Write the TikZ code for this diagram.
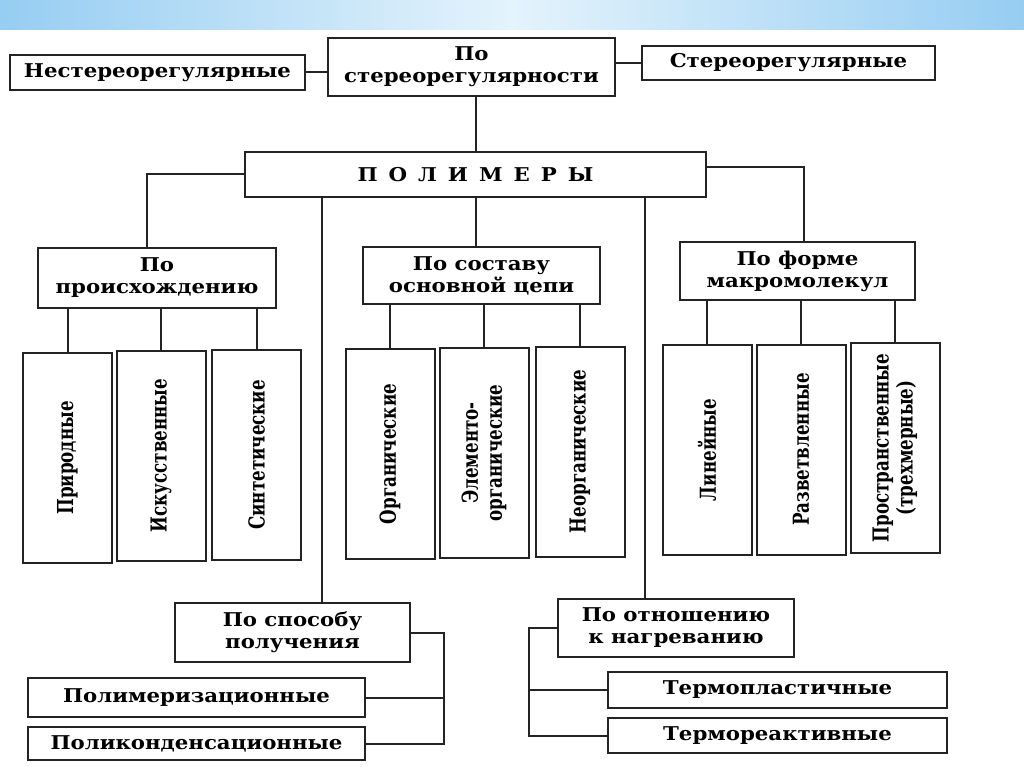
\documentclass[tikz,border=0pt]{standalone}
\usepackage{fontspec}
\setmainfont{DejaVu Serif}
\newfontfamily\wideserif[FakeStretch=1.12]{DejaVu Serif}
\newfontfamily\tallserif[FakeStretch=0.76]{DejaVu Serif}
\usetikzlibrary{positioning}
\definecolor{ink}{RGB}{35,35,35}
\definecolor{bandblue}{RGB}{150,205,242}
\definecolor{bandlight}{RGB}{228,243,252}
\newcommand{\lettergap}{\hspace{11pt}}

\begin{document}
\begin{tikzpicture}[x=1pt, y=-1pt,
    cls/.style={draw=ink, line width=2pt, fill=white, inner sep=2pt, align=center, font=\wideserif\bfseries\fontsize{19}{22}\selectfont},
    vcls/.style={draw=ink, line width=2pt, fill=white, rotate=90, minimum width=210pt, minimum height=89pt, align=center, font=\tallserif\bfseries\fontsize{22}{24}\selectfont},
    link/.style={draw=ink, line width=2pt},
]
    \fill[white] (0,0) rectangle (1024,767);
    \useasboundingbox (0,0) rectangle (1024,767);
    \fill[left color=bandblue, right color=bandblue, middle color=bandlight] (0,0) rectangle (1024,30);

    % Stereoregularity row
    \node[cls, minimum width=295pt, minimum height=35pt] (nonst) at (157.5,72.5) {Нестереорегулярные};
    \node[cls, minimum width=287pt, minimum height=58pt] (stereo) at (471.5,67) {По\\стереорегулярности};
    \node[cls, minimum width=293pt, minimum height=34pt] (st) at (788.5,63) {Стереорегулярные};

    % Root
    \node[cls, minimum width=461pt, minimum height=45pt, font=\wideserif\bfseries\fontsize{19}{22}\selectfont] (poly) at (475.5,174.5) {П\lettergap О\lettergap Л\lettergap И\lettergap М\lettergap Е\lettergap Р\lettergap Ы};

    % Classes
    \node[cls, minimum width=238pt, minimum height=60pt] (orig) at (157,278) {По\\происхождению};
    \node[cls, minimum width=237pt, minimum height=57pt] (comp) at (481.5,275.5) {По составу\\основной цепи};
    \node[cls, minimum width=235pt, minimum height=58pt] (form) at (797.5,271) {По форме\\макромолекул};

    % Vertical leaves
    \node[vcls] (nat) at (67.5,458) {Природные};
    \node[vcls] (art) at (161,455.5) {Искусственные};
    \node[vcls] (syn) at (256.5,455) {Синтетические};
    \node[vcls] (org) at (390,454) {Органические};
    \node[vcls] (elem) at (484,453) {Элементо-\\органические};
    \node[vcls] (inorg) at (580,451.5) {Неорганические};
    \node[vcls] (lin) at (707,450) {Линейные};
    \node[vcls] (branch) at (801,449.5) {Разветвленные};
    \node[vcls] (spat) at (895,448) {Пространственные\\(трехмерные)};

    % Bottom left
    \node[cls, minimum width=235pt, minimum height=59pt] (meth) at (292.5,632.5) {По способу\\получения};
    \node[cls, minimum width=337pt, minimum height=39pt] (polym) at (196.5,697.5) {Полимеризационные};
    \node[cls, minimum width=337pt, minimum height=33pt] (polyc) at (196.5,743.5) {Поликонденсационные};

    % Bottom right
    \node[cls, minimum width=236pt, minimum height=58pt] (heat) at (676,628) {По отношению\\к нагреванию};
    \node[cls, minimum width=339pt, minimum height=36pt] (thpl) at (777.5,690) {Термопластичные};
    \node[cls, minimum width=339pt, minimum height=35pt] (thre) at (777.5,735.5) {Термореактивные};

    % Connectors
    \draw[link] (nonst.east) -- (nonst.east -| stereo.west);
    \draw[link] (st.west) -- (st.west -| stereo.east);
    \draw[link] (poly.north) -- (poly.north |- stereo.south);
    \draw[link] (poly.west) -| ([xshift=-10pt]orig.north);
    \draw[link] ([yshift=7.5pt]poly.east) -| ([xshift=6.5pt]form.north);
    \draw[link] (poly.south) -- (poly.south |- comp.north);
    \draw[link] ([xshift=29.5pt]meth.north) -- ([xshift=29.5pt]meth.north |- poly.south);
    \draw[link] ([xshift=-31pt]heat.north) -- ([xshift=-31pt]heat.north |- poly.south);
    \foreach \leaf/\head in {nat/orig, art/orig, syn/orig, org/comp, elem/comp, inorg/comp, lin/form, branch/form, spat/form}
        \draw[link] (\leaf.east) -- (\leaf.east |- \head.south);
    \draw[link] (meth.east) -| ([xshift=78pt]polyc.east) -- (polyc.east);
    \draw[link] (polym.east) -- ([xshift=78pt]polym.east);
    \draw[link] (heat.west) -| ([xshift=-78pt]thre.west) -- (thre.west);
    \draw[link] (thpl.west) -- ([xshift=-78pt]thpl.west);
\end{tikzpicture}
\end{document}
